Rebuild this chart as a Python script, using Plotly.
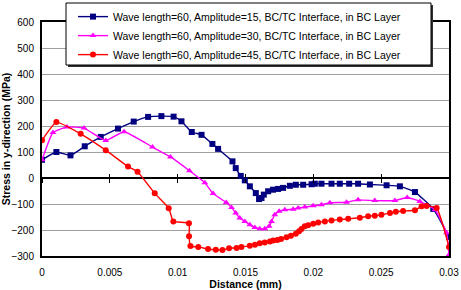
import plotly.graph_objects as go

# ---- data (distance in mm, stress in MPa) ----
names = [
    "Wave length=60, Amplitude=15, BC/TC Interface, in BC Layer",
    "Wave length=60, Amplitude=30, BC/TC Interface, in BC Layer",
    "Wave length=60, Amplitude=45, BC/TC Interface, in BC Layer",
]

blue_x = [0, 0.00106, 0.0021, 0.00315, 0.00433, 0.0056, 0.00676, 0.00782, 0.0088, 0.0097,
          0.01028, 0.01104, 0.01176, 0.01256, 0.01298, 0.01404, 0.01428, 0.01465, 0.01495,
          0.01532, 0.01576, 0.01600, 0.01618, 0.01635, 0.01667, 0.01703, 0.0174, 0.01777,
          0.01827, 0.01871, 0.01925, 0.01987, 0.02011, 0.0206, 0.02134, 0.02195, 0.02264,
          0.0233, 0.02417, 0.0254, 0.02638, 0.02749, 0.02884, 0.03]
blue_y = [70, 100, 87, 122, 158, 190, 217, 235, 238, 236,
          218, 177, 166, 131, 112, 64, 38, 8, -9,
          -32, -58, -81, -77, -64, -51, -45, -42, -38,
          -30, -26, -26, -24, -22, -22, -22, -22, -22,
          -22, -25, -28, -32, -54, -119, -227]

mag_x = [0, 0.00081, 0.00184, 0.0031, 0.0047, 0.00605, 0.00814, 0.00947, 0.01087, 0.012,
         0.01261, 0.01358, 0.01397, 0.01428, 0.01458, 0.01495, 0.01532, 0.01569, 0.01605,
         0.01642, 0.01674, 0.01692, 0.01716, 0.01748, 0.0179, 0.01851, 0.01888, 0.01937,
         0.01999, 0.0206, 0.02122, 0.02245, 0.0233, 0.02453, 0.02601, 0.02692, 0.02785,
         0.02896, 0.02982, 0.03]
mag_y = [70, 175, 196, 192, 144, 178, 119, 81, 28, -18,
         -60, -94, -113, -135, -154, -167, -180, -190, -195,
         -195, -186, -167, -141, -128, -122, -120, -115, -112,
         -107, -103, -95, -93, -84, -87, -87, -75, -90,
         -122, -211, -295]

red_x = [0, 0.00106, 0.00285, 0.0047, 0.00634, 0.00704, 0.00831, 0.00934, 0.00968, 0.01083,
         0.01084, 0.01094, 0.01152, 0.01224, 0.01281, 0.0133, 0.01379, 0.01434, 0.0147,
         0.01532, 0.0157, 0.01605, 0.01642, 0.0168, 0.01704, 0.01735, 0.01762, 0.01802,
         0.01835, 0.01871, 0.01895, 0.01913, 0.01937, 0.01962, 0.01999, 0.02036, 0.02085,
         0.02134, 0.02195, 0.02257, 0.02343, 0.02404, 0.02453, 0.02502, 0.02565, 0.02608,
         0.02662, 0.02749, 0.02798, 0.02835, 0.02909, 0.03]
red_y = [145, 215, 170, 107, 44, 24, -59, -116, -167, -174,
         -224, -262, -265, -273, -276, -277, -270, -269, -265,
         -261, -257, -251, -248, -244, -240, -238, -235, -228,
         -222, -214, -205, -196, -186, -182, -176, -171, -167,
         -163, -160, -157, -153, -147, -145, -141, -135, -130,
         -127, -124, -109, -108, -115, -265]

x_ticks = [0, 0.005, 0.01, 0.015, 0.02, 0.025, 0.03]
x_tick_text = ["0", "0.005", "0.01", "0.015", "0.02", "0.025", "0.03"]
y_ticks = [-300, -200, -100, 0, 100, 200, 300, 400, 500, 600]

series = [
    (blue_x, blue_y, "#000080", "square"),
    (mag_x, mag_y, "#FF00FF", "triangle-up"),
    (red_x, red_y, "#FF0000", "circle"),
]

FONT = "Liberation Sans, Arial, sans-serif"

fig = go.Figure()
for (xs, ys, col, sym), nm in zip(series, names):
    fig.add_trace(go.Scatter(
        x=xs, y=ys, name=nm, mode="lines+markers",
        line=dict(color=col, width=1.4, shape="spline", smoothing=0.4),
        marker=dict(symbol=sym, size=6, color=col),
    ))

# invisible helpers so the tick-mark axes on the zero line are drawn
for ax in ("x2", "x3"):
    fig.add_trace(go.Scatter(x=[x_ticks[0], x_ticks[-1]], y=[0, 0], xaxis=ax, yaxis="y",
                             mode="lines", line=dict(width=0), opacity=0,
                             showlegend=False, hoverinfo="skip"))

# legend frame (with a small drop shadow) drawn as paper shapes
px = 1 / 407
py = 1 / 234
lx0, lx1 = (66 - 42) * px, (431 - 42) * px
ly0, ly1 = (256 - 65) * py, (256 - 3) * py
fig.add_shape(type="rect", xref="paper", yref="paper",
              x0=lx0 + 2 * px, x1=lx1 + 2 * px, y0=ly0 - 2 * py, y1=ly1 - 2 * py,
              fillcolor="#303030", line=dict(width=0), layer="above")
fig.add_shape(type="rect", xref="paper", yref="paper",
              x0=lx0, x1=lx1, y0=ly0, y1=ly1,
              fillcolor="white", line=dict(color="black", width=1), layer="above")

fig.update_layout(
    width=461, height=290,
    margin=dict(l=42, r=12, t=22, b=34, autoexpand=False),
    paper_bgcolor="white", plot_bgcolor="white",
    font=dict(family=FONT, size=10, color="black"),
    showlegend=True,
    legend=dict(
        x=(73 - 42) * px, y=1.085, xanchor="left", yanchor="top",
        bgcolor="rgba(0,0,0,0)", borderwidth=0,
        font=dict(size=10.5, family=FONT),
        traceorder="normal",
    ),
    xaxis=dict(
        range=[0, 0.03], tickvals=x_ticks, ticktext=x_tick_text,
        showgrid=False, zeroline=False, ticks="outside", ticklen=6, tickcolor="rgba(0,0,0,0)",
        automargin=False,
        showline=True, linecolor="black", linewidth=2, mirror=True,
        tickfont=dict(size=10),
        title=dict(text="<b>Distance (mm)</b>", font=dict(size=10.5), standoff=8),
    ),
    yaxis=dict(
        range=[-300, 600], tickvals=y_ticks, automargin=False,
        showgrid=True, gridcolor="#a0a0a0", gridwidth=1,
        zeroline=True, zerolinecolor="black", zerolinewidth=1.5,
        ticks="outside", ticklen=4, tickcolor="rgba(0,0,0,0)",
        showline=True, linecolor="black", linewidth=2, mirror=True,
        tickfont=dict(size=10),
        title=dict(text="<b>Stress in y-direction (MPa)</b>", font=dict(size=10.5), standoff=2),
    ),
    xaxis2=dict(
        overlaying="x", anchor="free", position=1/3, range=[0, 0.03],
        tickvals=x_ticks, showticklabels=False, ticks="outside", ticklen=4,
        tickcolor="black", tickwidth=1, showgrid=False, zeroline=False, showline=False,
        side="bottom", automargin=False,
    ),
    xaxis3=dict(
        overlaying="x", anchor="free", position=1/3, range=[0, 0.03],
        tickvals=x_ticks, showticklabels=False, ticks="inside", ticklen=4,
        tickcolor="black", tickwidth=1, showgrid=False, zeroline=False, showline=False,
        side="bottom", automargin=False,
    ),
)

fig.write_html("out.html")
